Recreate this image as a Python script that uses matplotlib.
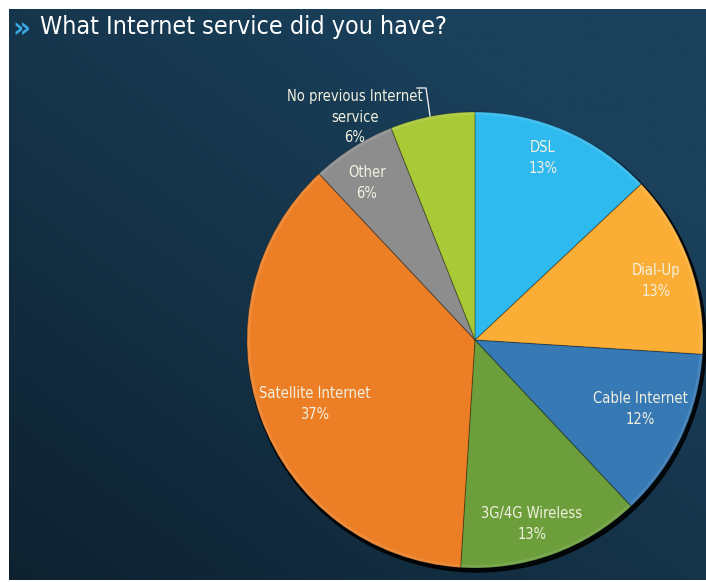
import numpy as np
import matplotlib
matplotlib.use("Agg")
import matplotlib.pyplot as plt
from matplotlib.patches import Wedge, Circle
from matplotlib import font_manager
from matplotlib.font_manager import FontProperties

# Survey answers, clockwise from 12 o'clock
categories = ["DSL", "Dial-Up", "Cable Internet", "3G/4G Wireless",
              "Satellite Internet", "Other", "No previous Internet\nservice"]
shares = [13, 13, 12, 13, 37, 6, 6]
colors = ["#2EB9EF", "#FBAE35", "#3679B4", "#6C9F3B",
          "#EC7F26", "#8D8D8D", "#A9CA36"]
title = "What Internet service did you have?"

W, H = 706, 582
fig = plt.figure(figsize=(W / 100, H / 100), dpi=100, facecolor="white")
ax = fig.add_axes([0, 0, 1, 1])
ax.set_xlim(0, W)
ax.set_ylim(0, H)
ax.set_aspect("equal")
ax.axis("off")

# prefer a narrow face if one is installed
cond = None
for f in font_manager.fontManager.ttflist:
    low = f.fname.lower()
    if ("condensed" in low or "narrow" in low) and "bold" not in low \
            and "italic" not in low and "oblique" not in low and "light" not in low:
        if cond is None or "dejavusans" in low:
            cond = f.fname
if cond:
    fp_label = FontProperties(fname=cond, size=10.5)
    fp_title = FontProperties(fname=cond, size=18)
else:
    fp_label = FontProperties(family="DejaVu Sans", size=9.5)
    fp_title = FontProperties(family="DejaVu Sans", size=16)

# dark navy background, lighter towards the upper right
x0, x1, y0, y1 = 9, W, 2, H - 9
ny, nx = 200, 240
yy, xx = np.mgrid[0:1:ny * 1j, 0:1:nx * 1j]
t = np.clip(0.45 * xx + 0.5 * (1 - yy) + 0.25, 0, 1)
dark = np.array([0x0A, 0x17, 0x21]) / 255
light = np.array([0x1A, 0x40, 0x5B]) / 255
img = dark + (light - dark) * t[..., None]
ax.imshow(img, extent=[x0, x1, y0, y1], origin="upper", zorder=0, aspect="auto")

cx, cy, r = 475, H - 340, 228

# drop shadow under the pie
ax.add_patch(Circle((cx + 2, cy - 3), r + 1, color="black", alpha=0.85, zorder=1))

total = sum(shares)
start = 90.0
label_pos = [(543, 158), (656, 281), (640, 409), (532, 524),
             (315, 404), (367, 183), (355, 117)]
for name, val, col, (lx, ly) in zip(categories, shares, colors, label_pos):
    sweep = 360.0 * val / total
    th1, th2 = start - sweep, start
    ax.add_patch(Wedge((cx, cy), r, th1, th2, facecolor=col, edgecolor="none", zorder=2))
    # subtle bevel: light rim and soft edge
    ax.add_patch(Wedge((cx, cy), r, th1, th2, width=3, facecolor="white",
                       alpha=0.10, edgecolor="none", zorder=3))
    ax.add_patch(Wedge((cx, cy), r, th1, th2, facecolor="none",
                       edgecolor=(0, 0, 0, 0.2), linewidth=0.8, zorder=3))
    ax.text(lx, H - ly, f"{name}\n{val}%", ha="center", va="center",
            color="#F2F0E0", fontproperties=fp_label, linespacing=1.45, zorder=5)
    start = th1

# leader line for the small lime slice
ax.plot([417, 426, 430], [H - 88, H - 88, H - 116], color="#E8E8E8", lw=1, zorder=5)

# title
ax.text(12, H - 29, "\u00bb", color="#3AA8E2", family="DejaVu Sans",
        fontsize=20, fontweight="bold", va="center", ha="left", zorder=5)
ax.text(40, H - 27, title, color="white", fontproperties=fp_title,
        va="center", ha="left", zorder=5)

fig.savefig("out.png", dpi=100, facecolor=fig.get_facecolor())
